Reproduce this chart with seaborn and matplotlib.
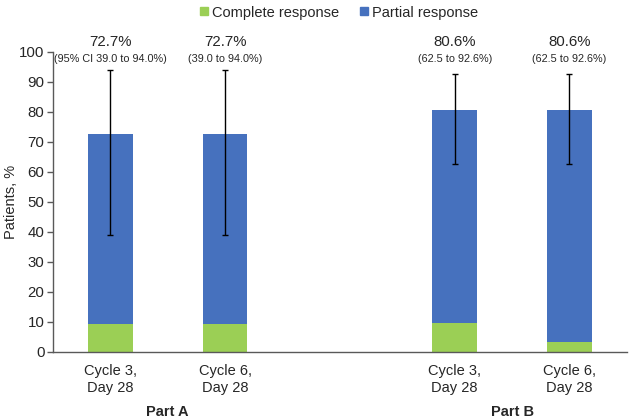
import pandas as pd
import matplotlib.pyplot as plt
import seaborn as sns
from matplotlib.lines import Line2D
import matplotlib.transforms as mtransforms

# Data
parts = ["Part A", "Part A", "Part B", "Part B"]
visits = ["Cycle 3,\nDay 28", "Cycle 6,\nDay 28", "Cycle 3,\nDay 28", "Cycle 6,\nDay 28"]
overall = [72.7, 72.7, 80.6, 80.6]
complete = [9.2, 9.2, 9.7, 3.2]
ci_low = [39.0, 39.0, 62.5, 62.5]
ci_high = [94.0, 94.0, 92.6, 92.6]
ci_labels = ["(95% CI 39.0 to 94.0%)", "(39.0 to 94.0%)", "(62.5 to 92.6%)", "(62.5 to 92.6%)"]

green = "#9BCF55"
blue = "#4671BE"

sns.set_theme(style="white")
plt.rcParams["font.family"] = ["Liberation Sans", "DejaVu Sans"]

df = pd.DataFrame({"part": parts, "visit": visits, "overall": overall,
                   "complete": complete, "low": ci_low, "high": ci_high})
# leave an empty slot between the two parts
df["pos"] = [i + 1 if p == "Part B" else i for i, p in enumerate(df["part"])]

fig = plt.figure(figsize=(6.3, 4.19), dpi=100)
ax = fig.add_axes([0.084, 0.16, 0.911, 0.716])

sns.barplot(data=df, x="pos", y="overall", native_scale=True, width=0.39,
            color=blue, saturation=1, linewidth=0, ax=ax)
sns.barplot(data=df, x="pos", y="complete", native_scale=True, width=0.39,
            color=green, saturation=1, linewidth=0, ax=ax)

ax.errorbar(df["pos"], df["overall"],
            yerr=[df["overall"] - df["low"], df["high"] - df["overall"]],
            fmt="none", ecolor="black", elinewidth=1, capsize=2.5, capthick=1)

for x, v, lab in zip(df["pos"], df["overall"], ci_labels):
    ax.text(x, 103.2, f"{v}%", ha="center", va="center", fontsize=10.8, clip_on=False)
    ax.text(x, 97.8, lab, ha="center", va="center", fontsize=7.8, clip_on=False)

ax.set_xlim(-0.5, 4.5)
ax.set_ylim(0, 100)
ax.set_yticks(range(0, 101, 10))
ax.set_xticks(df["pos"])
ax.set_xticklabels(df["visit"], fontsize=10.5)
ax.tick_params(axis="y", labelsize=10.8, left=True, length=4, width=1, color="#595959", pad=2)
ax.tick_params(axis="x", length=0, pad=9)
ax.set_xlabel("")
ax.set_ylabel("Patients, %", fontsize=10.5, labelpad=1)

for s in ["top", "right"]:
    ax.spines[s].set_visible(False)
for s in ["left", "bottom"]:
    ax.spines[s].set_color("#595959")
    ax.spines[s].set_linewidth(1)

trans = mtransforms.blended_transform_factory(ax.transData, ax.transAxes)
for part in ["Part A", "Part B"]:
    xs = df.loc[df["part"] == part, "pos"]
    ax.text(xs.mean(), -0.2, part, transform=trans, ha="center", va="center",
            fontsize=10.5, fontweight="bold")

handles = [Line2D([], [], marker="s", linestyle="none", markersize=6, color=green),
           Line2D([], [], marker="s", linestyle="none", markersize=6, color=blue)]
fig.legend(handles, ["Complete response", "Partial response"], loc="upper center",
           bbox_to_anchor=(0.535, 1.018), ncol=2, frameon=False, fontsize=10.5,
           handletextpad=0.05, columnspacing=1.2, handlelength=1)

fig.savefig("out.png", dpi=100)
